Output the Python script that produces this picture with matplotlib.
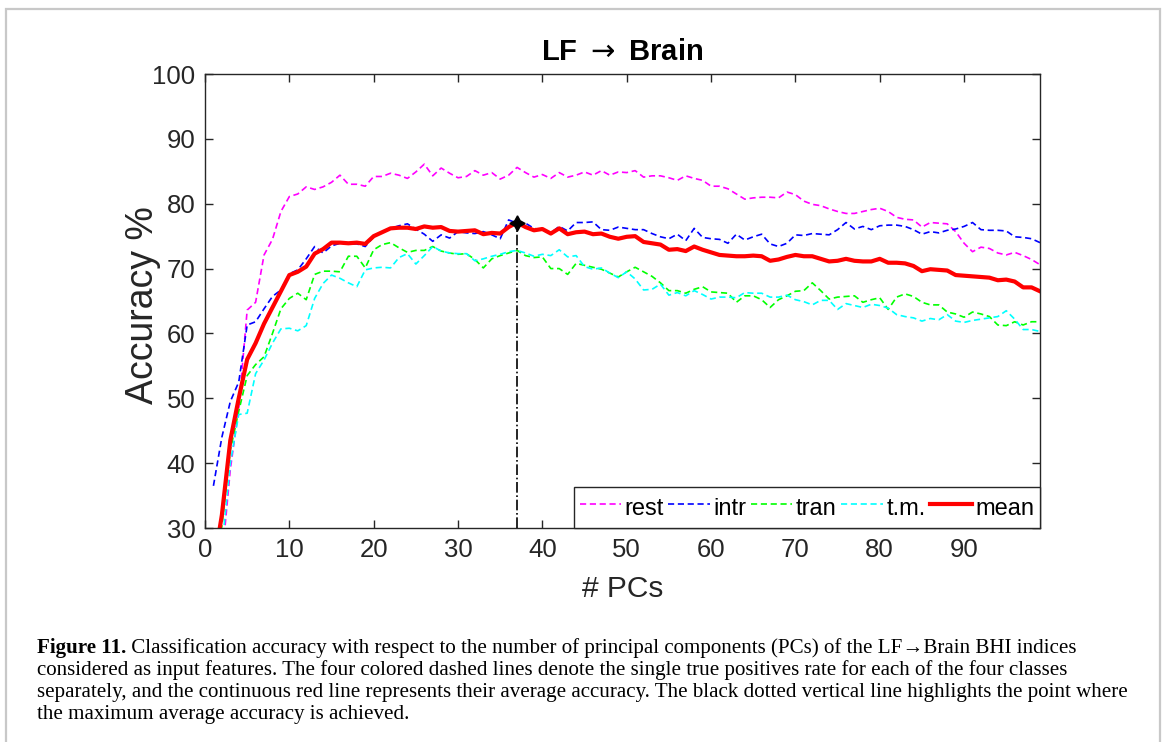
import numpy as np
import matplotlib
matplotlib.use("Agg")
import matplotlib.pyplot as plt
from matplotlib.patches import Rectangle

pcs = list(range(1, 100))

rest = [20, 25, 39, 48.5, 63.6, 64.8, 72.1, 74.5, 78.8, 81.1,
        81.5, 82.6, 82.2, 82.6, 83.3, 84.4, 83.0, 83.0, 82.7, 84.2,
        84.2, 84.7, 84.4, 83.9, 84.9, 86.1, 84.3, 85.5, 84.7, 84.0,
        84.2, 85.1, 84.4, 84.8, 83.8, 84.4, 85.6, 84.8, 84.1, 84.5,
        83.9, 84.8, 84.1, 84.4, 84.9, 84.4, 85.1, 84.4, 84.9, 84.8,
        85.1, 84.1, 84.3, 84.3, 84.0, 83.6, 84.3, 83.9, 83.6, 82.7,
        82.7, 82.3, 81.5, 80.7, 80.9, 81.0, 81.0, 80.9, 81.8, 81.4,
        80.4, 79.9, 79.7, 79.2, 78.8, 78.5, 78.5, 78.8, 79.1, 79.3,
        78.8, 77.9, 77.6, 77.5, 76.4, 77.1, 77.0, 76.9, 75.7, 73.9,
        72.6, 73.3, 73.1, 72.4, 72.1, 72.5, 72.0, 71.4, 70.6]

intr = [36.5, 44, 49.5, 52.5, 61.3, 61.8, 63.8, 65.7, 66.7, 69.2,
        69.8, 71.5, 73.4, 72.4, 73.5, 73.9, 73.8, 73.8, 73.4, 74.9,
        75.6, 76.2, 76.6, 76.9, 76.1, 75.3, 74.2, 75.2, 74.7, 75.7,
        75.5, 75.4, 75.7, 75.2, 74.6, 77.5, 77.0, 77.0, 76.2, 75.9,
        75.5, 76.5, 75.8, 77.1, 77.1, 77.2, 76.0, 75.9, 76.4, 76.2,
        76.0, 76.0, 75.4, 74.9, 74.6, 75.3, 74.3, 76.2, 74.8, 74.6,
        74.5, 73.9, 75.3, 74.4, 74.9, 75.3, 73.8, 73.4, 73.9, 75.2,
        75.1, 75.4, 75.3, 75.2, 76.0, 77.1, 76.1, 76.5, 76.0, 76.6,
        76.7, 76.7, 76.5, 76.0, 75.3, 75.7, 75.5, 75.9, 76.1, 76.5,
        77.1, 76.0, 75.9, 75.9, 75.8, 74.9, 74.8, 74.6, 74.0]

tran = [22, 30.3, 42, 48, 53.5, 55.2, 56.4, 60, 63.8, 65.4,
        66.2, 65.2, 69.1, 69.6, 69.6, 69.5, 71.9, 71.9, 70.1, 72.9,
        73.7, 74.0, 73.2, 72.5, 72.8, 72.8, 73.4, 72.7, 72.4, 72.2,
        72.3, 71.4, 70.1, 71.5, 72.0, 72.4, 72.8, 72.0, 71.7, 71.8,
        70.0, 70.0, 69.1, 70.8, 70.5, 70.2, 69.9, 69.3, 68.7, 69.5,
        70.2, 69.5, 68.8, 67.8, 66.6, 66.6, 66.2, 66.8, 67.2, 66.4,
        66.3, 66.2, 64.8, 65.8, 65.8, 65.2, 64.0, 65.2, 65.8, 66.5,
        66.6, 67.8, 66.6, 65.3, 65.6, 65.7, 65.8, 64.8, 65.2, 65.5,
        63.7, 65.6, 66.1, 65.7, 64.8, 64.4, 64.4, 63.3, 63.0, 62.5,
        63.3, 63.0, 62.6, 61.3, 61.2, 61.8, 61.3, 61.8, 61.8]

tm = [20, 27, 40, 47.5, 47.7, 53.8, 55.9, 58.5, 60.7, 60.8,
      60.4, 61.2, 65.4, 67.7, 69.0, 68.5, 67.8, 67.2, 69.8, 70.1,
      70.2, 70.1, 71.7, 72.3, 70.7, 72.0, 73.4, 72.7, 72.4, 72.3,
      72.3, 71.2, 71.5, 71.9, 72.2, 72.6, 72.8, 72.4, 71.9, 72.2,
      72.0, 72.9, 71.8, 72.0, 70.3, 69.9, 70.1, 69.3, 68.6, 69.5,
      68.4, 66.7, 66.8, 67.6, 65.9, 66.3, 65.8, 66.6, 66.0, 65.3,
      65.6, 65.6, 65.5, 66.3, 66.2, 66.2, 65.6, 65.6, 65.9, 65.2,
      64.9, 64.4, 65.1, 65.1, 63.7, 64.6, 64.3, 64.0, 64.5, 64.3,
      63.9, 62.9, 62.6, 62.4, 61.9, 62.3, 62.1, 62.9, 61.9, 61.7,
      62.0, 62.2, 62.4, 62.6, 63.5, 62.2, 60.6, 60.6, 60.3]

mean = [24, 32, 43.5, 50, 56, 58.5, 61.5, 64, 66.5, 69,
        69.5, 70.3, 72.3, 73, 74, 74, 73.9, 74, 73.8, 75,
        75.6, 76.2, 76.3, 76.3, 76.1, 76.5, 76.3, 76.4, 75.8, 75.7,
        75.8, 75.9, 75.3, 75.5, 75.4, 76.4, 77.1, 76.4, 75.9, 76.1,
        75.4, 76.2, 75.3, 75.6, 75.7, 75.3, 75.4, 74.9, 74.6, 74.9,
        75.0, 74.1, 73.9, 73.7, 72.9, 73.0, 72.7, 73.4, 72.9, 72.5,
        72.1, 72.0, 71.9, 71.9, 72.0, 71.9, 71.2, 71.4, 71.8, 72.1,
        71.9, 71.9, 71.5, 71.1, 71.2, 71.5, 71.2, 71.1, 71.1, 71.5,
        70.9, 70.9, 70.8, 70.4, 69.6, 69.9, 69.8, 69.7, 69.0, 68.9,
        68.8, 68.7, 68.6, 68.2, 68.3, 68.0, 67.1, 67.1, 66.5]

series_labels = ["rest", "intr", "tran", "t.m.", "mean"]
xticks = list(range(0, 100, 10))
yticks = list(range(30, 101, 10))

W, H = 1168, 742
fig = plt.figure(figsize=(W / 100, H / 100), dpi=100)
fig.patch.set_facecolor("white")

# outer frame
fig.add_artist(Rectangle((6 / W, -0.01), (1160 - 6) / W, 1 - 9 / H + 0.01,
                         transform=fig.transFigure, fill=False,
                         edgecolor="#c8c8c8", linewidth=1.6))

L, R, T, B = 205, 1040, 74, 528
ax = fig.add_axes([L / W, (H - B) / H, (R - L) / W, (B - T) / H])

sans = "Liberation Sans"
dash = (3.7, 2.2)
ax.plot(pcs, rest, color="#ff00ff", lw=1.2, linestyle=(0, dash), label=series_labels[0])
ax.plot(pcs, intr, color="#0000ff", lw=1.2, linestyle=(0, dash), label=series_labels[1])
ax.plot(pcs, tran, color="#00ff00", lw=1.2, linestyle=(0, dash), label=series_labels[2])
ax.plot(pcs, tm, color="#00ffff", lw=1.2, linestyle=(0, dash), label=series_labels[3])
ax.plot(pcs, mean, color="#ff0000", lw=3.0, label=series_labels[4])

imax = int(np.argmax(mean))
ax.plot([pcs[imax], pcs[imax]], [30, mean[imax]], color="black", lw=1.2,
        linestyle="-.", zorder=5)
ax.plot([pcs[imax]], [mean[imax]], marker=(4, 1, 0), color="black",
        markersize=11, zorder=6)

ax.set_xlim(0, 99)
ax.set_ylim(30, 100)
ax.set_xticks(xticks)
ax.set_yticks(yticks)
for s in ax.spines.values():
    s.set_color("#262626")
    s.set_linewidth(1.0)
ax.tick_params(direction="in", length=6, width=1.0, color="#262626",
               top=True, right=True, labelsize=18.5, labelcolor="#262626", pad=7)
for lab in ax.get_xticklabels() + ax.get_yticklabels():
    lab.set_fontfamily(sans)

ax.set_xlabel("# PCs", fontsize=21.5, family=sans, color="#262626")
ax.set_ylabel("Accuracy %", fontsize=27, family=sans, color="#262626")
ax.xaxis.set_label_coords(0.5, -(575 - B) / (B - T))
ax.yaxis.set_label_coords(-(205 - 161) / (R - L), 0.49)
ax.set_title(r"LF $\rightarrow$ Brain", fontsize=21, fontweight="bold",
             family=sans, pad=10)

leg = ax.legend(loc="lower right", ncol=5,
                prop={"family": sans, "size": 17},
                handlelength=1.75, handleheight=1.5, handletextpad=0.15,
                columnspacing=0.2, borderpad=0.25, borderaxespad=0.0,
                frameon=True, fancybox=False, edgecolor="#262626",
                framealpha=1)
leg.get_frame().set_linewidth(1.0)

# caption
serif = ["Liberation Serif", "DejaVu Serif"]
lines = [
    " Classification accuracy with respect to the number of principal components (PCs) of the LF\u2192Brain BHI indices",
    "considered as input features. The four colored dashed lines denote the single true positives rate for each of the four classes",
    "separately, and the continuous red line represents their average accuracy. The black dotted vertical line highlights the point where",
    "the maximum average accuracy is achieved.",
]
x0 = 37
ys = [648, 670, 692, 714]
fs0 = 14
r = fig.canvas.get_renderer()
bold = fig.text(x0 / W, 1 - ys[0] / H, "Figure 11.", family=serif, fontweight="bold",
                fontsize=fs0, va="center", ha="left")
bw = bold.get_window_extent(r).width
t1 = fig.text((x0 + bw) / W, 1 - ys[0] / H, lines[0], family=serif,
              fontsize=fs0, va="center", ha="left")
tw = t1.get_window_extent(r).width
scale = (1080 - x0) / (bw + tw)
fs = fs0 * scale
bold.set_fontsize(fs)
bw = bold.get_window_extent(r).width
t1.set_fontsize(fs)
t1.set_x((x0 + bw) / W)
for line, y in zip(lines[1:], ys[1:]):
    fig.text(x0 / W, 1 - y / H, line, family=serif, fontsize=fs,
             va="center", ha="left")

fig.savefig("out.png", dpi=100, facecolor="white")
